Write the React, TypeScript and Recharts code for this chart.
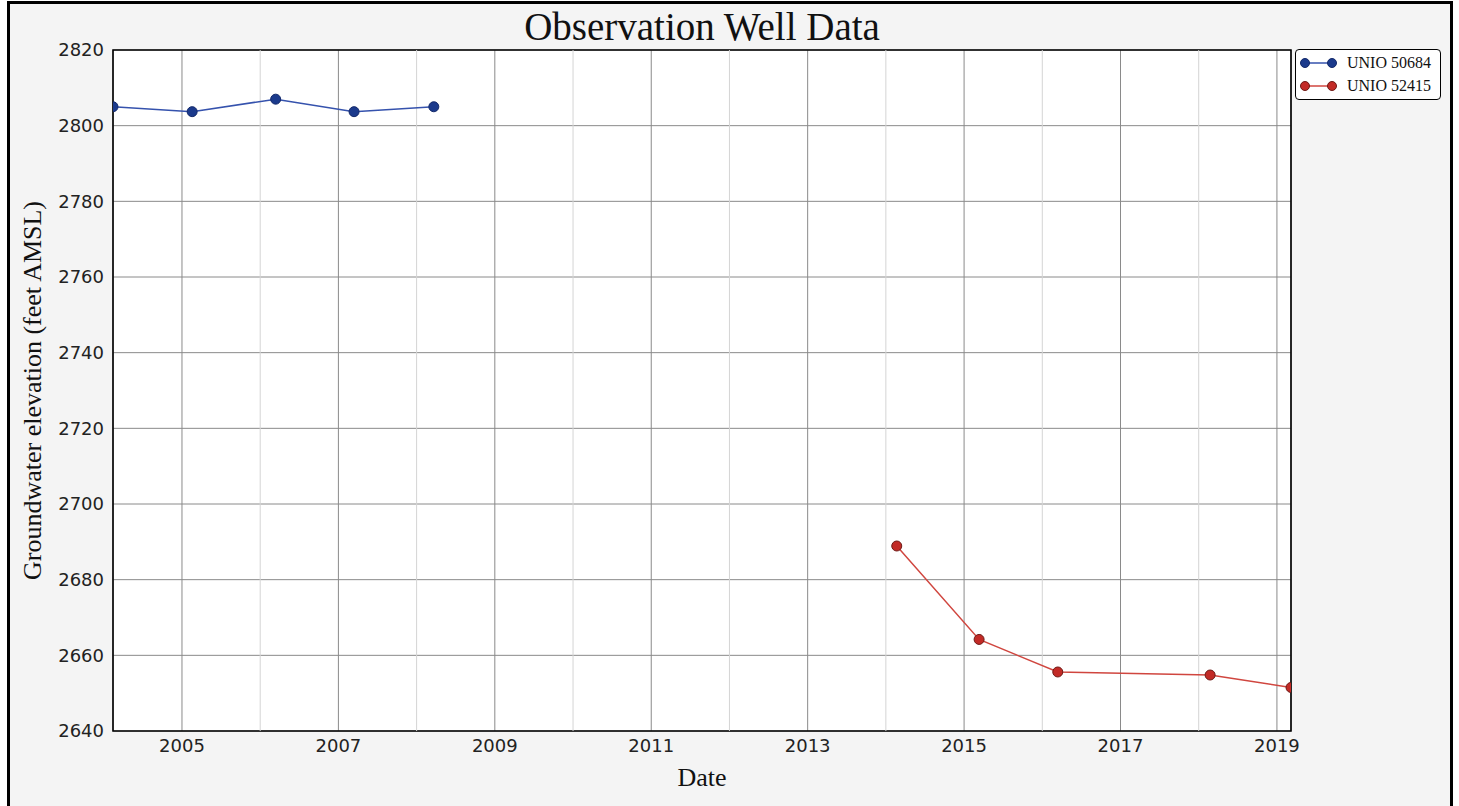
import React from 'react';
import { LineChart, Line, XAxis, YAxis, CartesianGrid, ReferenceLine, ReferenceArea } from 'recharts';

const blueName = 'UNIO 50684';
const redName = 'UNIO 52415';
const blueDates = [2004.118, 2005.13, 2006.198, 2007.2, 2008.22];
const blueLevels = [2805.0, 2803.7, 2807.0, 2803.7, 2805.0];
const redDates = [2014.139, 2015.192, 2016.198, 2018.146, 2019.18];
const redLevels = [2688.9, 2664.2, 2655.6, 2654.8, 2651.5];
const majorYears = [2005, 2007, 2009, 2011, 2013, 2015, 2017, 2019];
const minorYears = [2006, 2008, 2010, 2012, 2014, 2016, 2018];
const yTicks = [2640, 2660, 2680, 2700, 2720, 2740, 2760, 2780, 2800, 2820];

const blueData = blueDates.map((t, i) => ({ t, v: blueLevels[i] }));
const redData = redDates.map((t, i) => ({ t, v: redLevels[i] }));
const xMin = blueDates[0];
const xMax = redDates[redDates.length - 1];

const BLUE_LINE = '#3552ad';
const BLUE_DOT = '#1b3a8c';
const RED_LINE = '#d0463f';
const RED_DOT = '#c22a26';

const tickStyle = { fill: '#222', fontSize: 18, fontFamily: 'DejaVu Sans' };
const serif = '"Liberation Serif", "Times New Roman", serif';

export default function App() {
  return (
    <div style={{ position: 'fixed', left: 0, top: 0, width: 1459, height: 806, overflow: 'hidden', background: '#fff' }}>
      <div style={{ position: 'absolute', left: 7, top: 1, width: 1446, height: 830, boxSizing: 'border-box', border: '3px solid #000', background: '#f4f4f4' }} />
      <div style={{ position: 'absolute', left: 0, top: 7, width: 1404, textAlign: 'center', fontFamily: serif, fontSize: 39, lineHeight: '39px', color: '#111' }}>
        Observation Well Data
      </div>
      <div style={{ position: 'absolute', left: 0, top: 0 }}>
        <LineChart width={1459} height={806} margin={{ top: 50, right: 168, bottom: 15, left: 8 }}>
          <CartesianGrid fill="#fff" stroke="#8a8a8a" strokeWidth={1} />
          {minorYears.map((yr) => (
            <ReferenceLine key={yr} x={yr} stroke="#d4d4d4" strokeWidth={1} />
          ))}
          <XAxis
            type="number"
            dataKey="t"
            domain={[xMin, xMax]}
            ticks={majorYears}
            allowDataOverflow
            height={60}
            axisLine={false}
            tickLine={false}
            tick={tickStyle}
            label={{
              content: (p: any) => (
                <text x={p.viewBox.x + p.viewBox.width / 2} y={p.viewBox.y + 55} textAnchor="middle" fontFamily={serif} fontSize={26} fill="#111">
                  Date
                </text>
              ),
            }}
          />
          <YAxis
            type="number"
            domain={[yTicks[0], yTicks[yTicks.length - 1]]}
            ticks={yTicks}
            allowDataOverflow
            width={105}
            axisLine={false}
            tickLine={false}
            tickMargin={3}
            tick={tickStyle}
            label={{
              content: (p: any) => {
                const x = p.viewBox.x + 33;
                const y = p.viewBox.y + p.viewBox.height / 2;
                return (
                  <text x={x} y={y} textAnchor="middle" transform={`rotate(-90, ${x}, ${y})`} fontFamily={serif} fontSize={26} fill="#111">
                    Groundwater elevation (feet AMSL)
                  </text>
                );
              },
            }}
          />
          <ReferenceArea x1={xMin} x2={xMax} y1={yTicks[0]} y2={yTicks[yTicks.length - 1]} fill="none" fillOpacity={0} stroke="#000" strokeWidth={1.6} ifOverflow="visible" />
          <Line
            data={blueData}
            dataKey="v"
            name={blueName}
            stroke={BLUE_LINE}
            strokeWidth={1.5}
            dot={{ r: 5, fill: BLUE_DOT, stroke: '#13296a', strokeWidth: 1 }}
            isAnimationActive={false}
          />
          <Line
            data={redData}
            dataKey="v"
            name={redName}
            stroke={RED_LINE}
            strokeWidth={1.5}
            dot={{ r: 5, fill: RED_DOT, stroke: '#6e1a16', strokeWidth: 1 }}
            isAnimationActive={false}
          />
        </LineChart>
      </div>
      <div style={{ position: 'absolute', left: 1295, top: 49, width: 146, height: 51, boxSizing: 'border-box', border: '1px solid #000', borderRadius: 4, background: '#fff' }}>
        {[
          { name: blueName, line: BLUE_LINE, dot: BLUE_DOT, edge: '#13296a' },
          { name: redName, line: RED_LINE, dot: RED_DOT, edge: '#6e1a16' },
        ].map((s, i) => (
          <div key={s.name} style={{ position: 'absolute', left: 0, top: 3 + i * 22.5, height: 20, width: 144 }}>
            <svg width={40} height={20} style={{ position: 'absolute', left: 4, top: 0 }}>
              <line x1={5} y1={10} x2={32} y2={10} stroke={s.line} strokeWidth={1.5} />
              <circle cx={5} cy={10} r={4.5} fill={s.dot} stroke={s.edge} strokeWidth={1} />
              <circle cx={32} cy={10} r={4.5} fill={s.dot} stroke={s.edge} strokeWidth={1} />
            </svg>
            <span style={{ position: 'absolute', left: 51, top: 0, lineHeight: '20px', fontFamily: serif, fontSize: 16, color: '#111', whiteSpace: 'nowrap' }}>
              {s.name}
            </span>
          </div>
        ))}
      </div>
    </div>
  );
}
